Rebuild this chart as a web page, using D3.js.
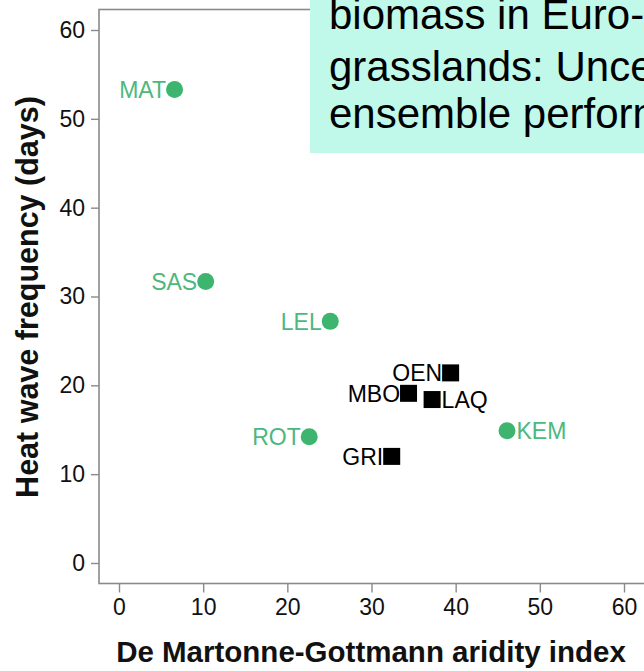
<!DOCTYPE html>
<html lang="en">
<head>
  <meta charset="utf-8">
  <title>Heat wave frequency vs aridity</title>
  <script src="https://d3js.org/d3.v7.min.js"></script>
  <style>
    body { margin: 0; background: #fff; overflow: hidden; }
    svg { display: block; font-family: "Liberation Sans", Arial, sans-serif; }
  </style>
</head>
<body>
  <script>
    // Sites and values
    const sites = ["MAT", "SAS", "LEL", "ROT", "KEM", "OEN", "MBO", "LAQ", "GRI"];
    const aridity = [6.6, 10.3, 25.1, 22.6, 46.1, 39.4, 34.4, 37.2, 32.4];
    const heatwave = [53.3, 31.7, 27.2, 14.2, 14.9, 21.4, 19.1, 18.4, 12.0];
    const shape = ["circle", "circle", "circle", "circle", "circle", "square", "square", "square", "square"];
    const labelSide = ["left", "left", "left", "left", "right", "left", "left", "right", "left"];
    const xTicks = [0, 10, 20, 30, 40, 50, 60];
    const yTicks = [0, 10, 20, 30, 40, 50, 60];
    const noteLines = ["biomass in Euro-Mediterranean", "grasslands: Uncertainty", "ensemble performance"];

    const W = 644, H = 671;
    const svg = d3.select("body").append("svg")
      .attr("width", W)
      .attr("height", H);

    // Scales
    var x = d3.scaleLinear().domain([0, 60]).range([119, 624]);
    var y = d3.scaleLinear().domain([0, 60]).range([563, 30]);

    // the right side of the frame lies outside the picture
    const frame = { left: 99, top: 9.5, right: 680, bottom: 583.5 };
    const axisColor = "#8a8a8a";

    // Frame around the plot
    svg.append("rect")
      .attr("x", frame.left)
      .attr("y", frame.top)
      .attr("width", frame.right - frame.left)
      .attr("height", frame.bottom - frame.top)
      .attr("fill", "none")
      .attr("stroke", axisColor)
      .attr("stroke-width", 1.6);

    // Y axis
    var gy = svg.append("g")
      .attr("transform", "translate(" + frame.left + ",0)")
      .call(d3.axisLeft(y).tickValues(yTicks).tickSize(8).tickPadding(6));
    // X axis
    var gx = svg.append("g")
      .attr("transform", "translate(0," + frame.bottom + ")")
      .call(d3.axisBottom(x).tickValues(xTicks).tickSize(9).tickPadding(6));

    [gx, gy].forEach(function(g) {
      g.select(".domain").remove();
      g.selectAll(".tick line").attr("stroke", axisColor).attr("stroke-width", 1.4);
      g.selectAll(".tick text")
        .attr("fill", "#111")
        .style("font-size", "23px")
        .style("font-family", "'Liberation Sans', Arial, sans-serif");
    });

    // Axis titles
    svg.append("text")
      .attr("x", 371)
      .attr("y", 662)
      .attr("text-anchor", "middle")
      .attr("font-weight", "bold")
      .attr("font-size", 29.5)
      .attr("fill", "#111")
      .text("De Martonne-Gottmann aridity index");

    svg.append("text")
      .attr("transform", "translate(38,297) rotate(-90)")
      .attr("text-anchor", "middle")
      .attr("font-weight", "bold")
      .attr("font-size", 30.5)
      .attr("fill", "#111")
      .text("Heat wave frequency (days)");

    // Points
    const green = "#3db56e";
    const r = 8.5;
    const half = 8.5;
    const pts = sites.map(function(s, i) {
      return { site: s, X: aridity[i], Y: heatwave[i], shape: shape[i], side: labelSide[i] };
    });

    svg.selectAll("circle.pt")
      .data(pts.filter(function(d) { return d.shape === "circle"; }))
      .enter()
      .append("circle")
      .attr("class", "pt")
      .attr("cx", function(d) { return x(d.X); })
      .attr("cy", function(d) { return y(d.Y); })
      .attr("r", r)
      .attr("fill", green);

    svg.selectAll("rect.pt")
      .data(pts.filter(function(d) { return d.shape === "square"; }))
      .enter()
      .append("rect")
      .attr("class", "pt")
      .attr("x", function(d) { return x(d.X) - half; })
      .attr("y", function(d) { return y(d.Y) - half; })
      .attr("width", half * 2)
      .attr("height", half * 2)
      .attr("fill", "#000");

    // Labels
    svg.selectAll("text.lab")
      .data(pts)
      .enter()
      .append("text")
      .attr("class", "lab")
      .attr("x", function(d) { return d.side === "left" ? x(d.X) - half : x(d.X) + half + 1; })
      .attr("y", function(d) { return y(d.Y) + 8.5; })
      .attr("text-anchor", function(d) { return d.side === "left" ? "end" : "start"; })
      .attr("font-size", 23)
      .attr("fill", function(d) { return d.shape === "circle" ? "#4cb87e" : "#000"; })
      .text(function(d) { return d.site; });

    // Note box in the top right corner (cut by the picture edge, as in the source)
    svg.append("rect")
      .attr("x", 310)
      .attr("y", 0)
      .attr("width", W - 310)
      .attr("height", 153)
      .attr("fill", "#c0f8ea");

    svg.selectAll("text.note")
      .data(noteLines)
      .enter()
      .append("text")
      .attr("class", "note")
      .attr("x", 329)
      .attr("y", function(d, i) { return [29, 81, 128][i]; })
      .attr("font-size", 42)
      .attr("fill", "#000")
      .text(function(d) { return d; });
  </script>
</body>
</html>
